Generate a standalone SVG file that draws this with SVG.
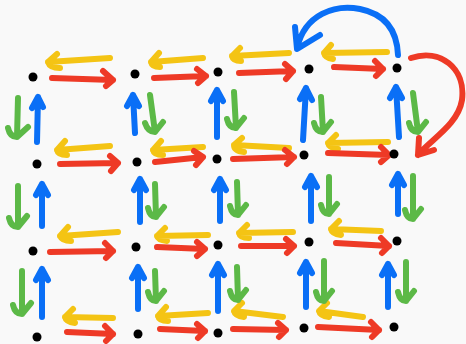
<svg xmlns="http://www.w3.org/2000/svg" width="466" height="344" viewBox="0 0 466 344">
<style>
.a{fill:none;stroke-width:6;stroke-linecap:round;stroke-linejoin:round}
.r{stroke:#ee3a26}
.y{stroke:#f4c414}
.b{stroke:#0a6ff6}
.g{stroke:#5cb947}
.n{fill:#000}
</style>
<rect width="466" height="344" fill="#f9f9f9"/>
<g id="connectors" class="a">
<!-- row 1 horizontals -->
<path class="y" d="M110,58 L48,62 M57,54 L48,62 Q50,68 60,68"/>
<path class="r" d="M52,78 L113,80 M103,71 L113,80 L106,86"/>
<path class="y" d="M203,58 L151,62 M159,53 L151,62 Q152,67 160,67"/>
<path class="r" d="M154,78 L206,76 M197,69 L206,76 L198,83"/>
<path class="y" d="M289,53 L232,56 M240,48 L232,56 Q233,61 241,61"/>
<path class="r" d="M239,73 L293,71 M285,64 L293,71 L286,79"/>
<path class="y" d="M387,52 L324,53 M331,45 L324,53 Q325,58 333,59"/>
<path class="r" d="M334,67 L383,69 M375,61 L383,69 L376,76"/>
<!-- row 2 horizontals -->
<path class="y" d="M110,146 L57,150 M65,141 L57,150 Q58,155 67,155"/>
<path class="r" d="M60,164 L118,163 M110,156 L118,163 L111,171"/>
<path class="y" d="M203,147 L153,150 M161,141 L153,150 Q154,155 163,155"/>
<path class="r" d="M155,162 L203,157 M194,151 L203,157 L196,165"/>
<path class="y" d="M289,148 L234,145 M242,138 L234,145 Q234,151 244,152"/>
<path class="r" d="M233,159 L294,157 M285,150 L294,157 L287,164"/>
<path class="y" d="M388,142 L328,143 M336,135 L328,143 Q329,148 338,149"/>
<path class="r" d="M328,153 L389,155 M381,147 L389,155 L381,162"/>
<!-- row 3 horizontals -->
<path class="y" d="M118,232 L60,236 M68,227 L60,236 Q62,241 71,241"/>
<path class="r" d="M50,252 L113,251 M105,243 L113,251 L106,258"/>
<path class="y" d="M208,235 L157,236 M165,228 L157,236 Q158,240 167,241"/>
<path class="r" d="M157,247 L205,249 M197,242 L205,249 L197,256"/>
<path class="y" d="M293,232 L239,233 M247,225 L239,233 Q240,238 249,238"/>
<path class="r" d="M241,246 L294,246 M286,239 L294,246 L287,253"/>
<path class="y" d="M381,231 L331,229 M339,221 L331,229 Q332,234 341,235"/>
<path class="r" d="M336,243 L389,246 M381,238 L389,246 L382,253"/>
<!-- row 4 horizontals -->
<path class="y" d="M113,318 L65,317 M73,309 L65,317 Q66,322 75,323"/>
<path class="r" d="M67,332 L113,334 M105,326 L113,334 L106,341"/>
<path class="y" d="M208,313 L158,316 M166,307 L158,316 Q159,321 168,321"/>
<path class="r" d="M160,329 L205,331 M197,324 L205,331 L198,338"/>
<path class="y" d="M283,317 L234,311 M242,303 L234,311 Q235,316 244,317"/>
<path class="r" d="M233,329 L286,330 M278,323 L286,330 L279,337"/>
<path class="y" d="M363,317 L319,311 M327,303 L319,311 Q320,316 329,317"/>
<path class="r" d="M318,327 L379,330 M371,322 L379,330 L372,337"/>
<!-- verticals rows 1-2 -->
<path class="g" d="M18,98 L17,137 M8,128 Q10,137 17,137 L28,127"/>
<path class="b" d="M37,142 L38,97 M32,108 L38,97 L43,107"/>
<path class="b" d="M135,133 L133,95 M127,106 L133,95 L139,106"/>
<path class="g" d="M150,95 L155,132 M145,123 Q148,132 155,132 L163,122"/>
<path class="b" d="M217,137 L217,90 M211,101 L217,90 L223,101"/>
<path class="g" d="M234,92 L236,128 M227,119 Q229,128 236,128 L244,118"/>
<path class="b" d="M303,140 L306,88 M300,99 L306,88 L312,100"/>
<path class="g" d="M321,97 L323,132 M314,123 Q316,132 323,132 L331,122"/>
<path class="b" d="M399,137 L396,87 M390,98 L396,87 L402,98"/>
<path class="g" d="M413,93 L418,132 M409,123 Q411,132 418,132 L426,122"/>
<!-- verticals rows 2-3 -->
<path class="g" d="M18,186 L18,227 M9,218 Q11,227 18,227 L27,216"/>
<path class="b" d="M42,226 L42,184 M36,195 L42,184 L48,195"/>
<path class="b" d="M140,222 L140,179 M134,190 L140,179 L146,190"/>
<path class="g" d="M155,184 L156,217 M148,208 Q150,217 156,217 L164,207"/>
<path class="b" d="M220,221 L220,179 M214,190 L220,179 L226,190"/>
<path class="g" d="M237,182 L238,215 M230,206 Q232,215 238,215 L246,205"/>
<path class="b" d="M311,221 L311,176 M305,187 L311,176 L317,187"/>
<path class="g" d="M329,177 L329,214 M321,205 Q323,214 329,214 L337,204"/>
<path class="b" d="M398,214 L398,174 M392,185 L398,174 L404,185"/>
<path class="g" d="M413,176 L413,219 M405,210 Q407,219 413,219 L421,209"/>
<!-- verticals rows 3-4 -->
<path class="g" d="M22,271 L22,314 M13,305 Q15,314 22,314 L31,303"/>
<path class="b" d="M42,317 L42,269 M36,280 L42,269 L48,280"/>
<path class="b" d="M138,309 L138,267 M132,278 L138,267 L144,278"/>
<path class="g" d="M155,271 L156,301 M148,292 Q150,301 156,301 L164,291"/>
<path class="b" d="M218,311 L218,264 M212,275 L218,264 L224,275"/>
<path class="g" d="M237,267 L238,300 M230,291 Q232,300 238,300 L246,290"/>
<path class="b" d="M306,307 L306,262 M300,273 L306,262 L312,273"/>
<path class="g" d="M324,261 L324,301 M316,292 Q318,301 324,301 L332,291"/>
<path class="b" d="M388,307 L388,264 M382,275 L388,264 L394,275"/>
<path class="g" d="M406,262 L406,301 M398,292 Q400,301 406,301 L414,291"/>
<!-- curved arrows -->
<path class="b" d="M398,55 C397,30 385,14 360,9 C335,4 305,14 297,48 M295,27 L297,49 L320,35"/>
<path class="r" d="M411,58 C440,48 466,68 462,100 C458,125 430,140 418,155 M419,138 L418,155 L434,150"/>
</g>
<g id="nodes" class="n">
<g id="n11"><circle cx="33" cy="77" r="4.5"/></g>
<g id="n12"><circle cx="135" cy="74" r="4.5"/></g>
<g id="n13"><circle cx="218" cy="72" r="4.5"/></g>
<g id="n14"><circle cx="309" cy="69" r="4.5"/></g>
<g id="n15"><circle cx="397" cy="68" r="4.5"/></g>
<g id="n21"><circle cx="37" cy="164" r="4.5"/></g>
<g id="n22"><circle cx="137" cy="162" r="4.5"/></g>
<g id="n23"><circle cx="217" cy="159" r="4.5"/></g>
<g id="n24"><circle cx="304" cy="155" r="4.5"/></g>
<g id="n25"><circle cx="394" cy="154" r="4.5"/></g>
<g id="n31"><circle cx="33" cy="251" r="4.5"/></g>
<g id="n32"><circle cx="136" cy="247" r="4.5"/></g>
<g id="n33"><circle cx="218" cy="245" r="4.5"/></g>
<g id="n34"><circle cx="309" cy="242" r="4.5"/></g>
<g id="n35"><circle cx="397" cy="241" r="4.5"/></g>
<g id="n41"><circle cx="37" cy="337" r="4.5"/></g>
<g id="n42"><circle cx="138" cy="334" r="4.5"/></g>
<g id="n43"><circle cx="218" cy="333" r="4.5"/></g>
<g id="n44"><circle cx="304" cy="328" r="4.5"/></g>
<g id="n45"><circle cx="394" cy="327" r="4.5"/></g>
</g>
</svg>
